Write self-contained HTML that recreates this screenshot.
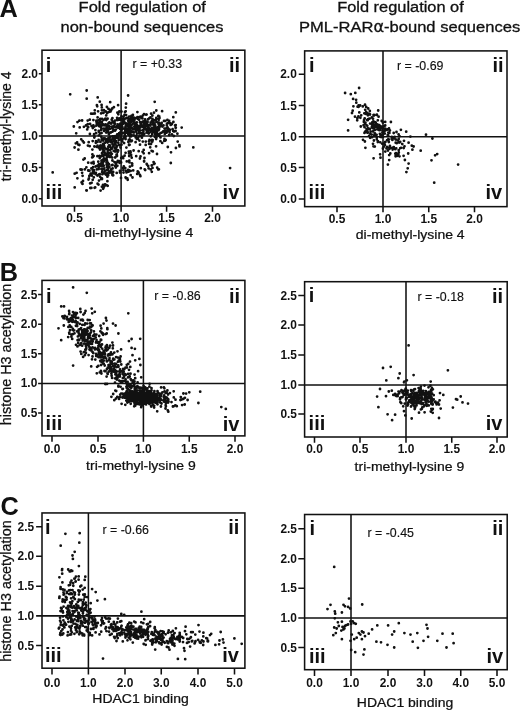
<!DOCTYPE html><html><head><meta charset="utf-8"><title>Figure</title><style>html,body{margin:0;padding:0;background:#fff}svg{display:block}text{font-family:"Liberation Sans", Arial, Helvetica, sans-serif;fill:#111}</style></head><body>
<svg width="520" height="710" viewBox="0 0 520 710">
<rect width="520" height="710" fill="#fff"/>
<g font-size="15.4" stroke="#111" stroke-width="0.3">
<text x="78.60" y="11.90" textLength="127.30" lengthAdjust="spacingAndGlyphs">Fold regulation of</text><text x="60.50" y="32.00" textLength="162.90" lengthAdjust="spacingAndGlyphs">non-bound sequences</text>
<text x="337.20" y="11.90" textLength="126.60" lengthAdjust="spacingAndGlyphs">Fold regulation of</text><text x="299.00" y="32.00" textLength="221.20" lengthAdjust="spacingAndGlyphs">PML-RAR<tspan font-family="DejaVu Sans, sans-serif" font-size="15">α</tspan>-bound sequences</text>
</g>
<g font-size="25.3" font-weight="bold"><text x="-0.4" y="17.3">A</text><text x="-0.2" y="280.8">B</text><text x="0.6" y="515.3">C</text></g>
<g stroke="#111" stroke-width="1.55" fill="none"><rect x="42.00" y="50.20" width="202.85" height="155.80"/><path d="M121.10 50.20V206.00M42.00 136.00H244.85M74.50 206.00v5.8M121.10 206.00v5.8M166.60 206.00v5.8M212.50 206.00v5.8M42.00 198.75h-3.2M42.00 167.50h-3.2M42.00 136.00h-3.2M42.00 104.80h-3.2M42.00 73.80h-3.2"/></g>
<g font-size="12.3" font-weight="bold"><g text-anchor="middle"><text transform="translate(74.50 222.10) scale(0.97 1)">0.5</text><text transform="translate(121.10 222.10) scale(0.97 1)">1.0</text><text transform="translate(166.60 222.10) scale(0.97 1)">1.5</text><text transform="translate(212.50 222.10) scale(0.97 1)">2.0</text></g><g text-anchor="end"><text transform="translate(38.00 202.75) scale(0.97 1)">0.0</text><text transform="translate(38.00 171.50) scale(0.97 1)">0.5</text><text transform="translate(38.00 140.00) scale(0.97 1)">1.0</text><text transform="translate(38.00 108.80) scale(0.97 1)">1.5</text><text transform="translate(38.00 77.80) scale(0.97 1)">2.0</text></g></g>
<text font-size="13" stroke="#111" stroke-width="0.25" text-anchor="middle" transform="translate(138.80 237.30) scale(1.077 1)">di-methyl-lysine 4</text>
<text font-size="14" stroke="#111" stroke-width="0.25" text-anchor="middle" transform="translate(11.00 126.30) rotate(-90) scale(1.000 1)">tri-methyl-lysine 4</text>
<text font-size="12.4" stroke="#111" stroke-width="0.15" x="132.50" y="67.50">r = +0.33</text>
<g font-size="20" font-weight="bold"><text x="45.70" y="71.50">i</text><text x="240.20" y="71.60" text-anchor="end">ii</text><text x="45.60" y="199.00">iii</text><text x="239.30" y="199.00" text-anchor="end">iv</text></g>
<path d="M175.8 127.7h0M138.1 126.1h0M122.3 126.7h0M115.9 129.6h0M117.4 112.7h0M102.6 125.2h0M142.5 134.2h0M155.2 130.1h0M147.6 121.9h0M146.2 122.4h0M143.4 127.6h0M155.5 131.3h0M138.7 126.3h0M160.5 137.4h0M129.1 134.9h0M103.6 119.9h0M92.8 128.1h0M161.5 125.0h0M136.6 118.2h0M123.4 121.6h0M138.3 126.3h0M137.4 112.1h0M134.2 121.8h0M124.7 128.4h0M115.0 120.7h0M126.0 123.3h0M133.0 132.0h0M87.7 124.2h0M116.7 126.8h0M129.7 139.4h0M107.6 126.6h0M159.1 128.9h0M107.6 128.4h0M121.1 137.0h0M154.3 129.3h0M113.8 125.9h0M98.6 124.4h0M158.8 134.1h0M130.9 121.9h0M96.1 133.2h0M132.0 127.7h0M167.4 120.0h0M87.2 129.4h0M153.6 130.3h0M133.2 119.0h0M112.2 128.2h0M150.9 128.8h0M96.8 123.5h0M173.4 122.0h0M145.8 141.6h0M121.3 131.5h0M148.7 133.6h0M128.1 133.4h0M148.3 132.6h0M169.6 132.2h0M111.3 123.5h0M166.7 132.5h0M100.4 124.3h0M143.7 123.9h0M129.2 131.1h0M146.4 125.8h0M124.5 115.0h0M154.7 125.0h0M130.7 130.5h0M93.4 125.4h0M108.0 131.6h0M147.7 125.0h0M117.1 119.9h0M149.8 132.3h0M164.5 128.6h0M148.1 119.3h0M139.5 129.8h0M119.7 124.6h0M123.0 132.8h0M132.5 131.8h0M158.7 130.3h0M121.5 111.6h0M134.8 129.0h0M126.6 129.5h0M142.7 130.3h0M99.2 126.2h0M140.0 122.2h0M117.7 124.5h0M151.1 113.7h0M147.9 125.4h0M129.2 116.6h0M144.9 124.9h0M141.1 122.6h0M158.9 135.8h0M129.7 127.0h0M121.8 126.3h0M94.3 126.6h0M139.4 140.6h0M121.5 120.1h0M133.8 128.8h0M134.4 129.2h0M107.0 127.1h0M112.7 127.1h0M166.8 125.2h0M143.5 135.0h0M125.0 132.1h0M128.9 124.2h0M103.1 124.3h0M144.2 129.1h0M101.4 129.0h0M156.8 132.2h0M130.9 126.6h0M128.3 118.4h0M137.1 133.4h0M106.2 115.4h0M156.7 121.9h0M169.9 130.0h0M146.5 121.6h0M150.8 136.3h0M156.2 137.7h0M131.3 134.7h0M122.3 128.6h0M144.7 128.8h0M150.8 130.2h0M142.4 125.9h0M151.4 140.6h0M133.5 123.0h0M141.2 135.9h0M164.3 131.1h0M169.6 129.7h0M164.8 133.9h0M133.8 135.3h0M125.5 132.6h0M103.0 125.3h0M160.2 123.7h0M154.5 123.5h0M128.5 132.6h0M108.0 130.6h0M112.6 131.6h0M144.3 123.7h0M164.5 138.9h0M131.7 118.1h0M156.5 130.0h0M106.9 130.5h0M120.4 123.6h0M120.9 119.1h0M114.4 123.4h0M130.1 119.3h0M119.5 124.9h0M127.3 118.0h0M142.4 118.4h0M143.6 127.3h0M142.0 117.1h0M105.7 124.3h0M100.8 124.6h0M139.2 132.5h0M168.7 129.1h0M89.8 119.7h0M156.6 135.1h0M112.5 121.3h0M150.2 124.6h0M129.2 124.3h0M131.9 140.7h0M109.1 126.1h0M171.8 124.2h0M115.0 130.7h0M126.0 125.4h0M160.4 141.2h0M96.4 120.6h0M166.7 131.1h0M132.9 120.6h0M137.9 138.5h0M129.0 121.6h0M117.7 127.3h0M143.3 121.3h0M161.6 132.7h0M121.6 129.9h0M125.7 111.3h0M130.5 131.6h0M126.9 130.7h0M148.7 128.6h0M140.4 133.2h0M155.9 119.7h0M143.0 115.3h0M113.4 130.2h0M156.5 137.6h0M126.0 118.3h0M119.5 118.5h0M170.1 123.1h0M148.3 119.2h0M155.3 132.4h0M117.3 126.8h0M169.2 135.0h0M136.4 135.7h0M153.6 120.8h0M143.5 131.0h0M154.0 112.7h0M181.7 127.6h0M167.6 131.0h0M168.2 123.1h0M152.4 115.5h0M101.9 122.0h0M157.0 134.5h0M153.0 124.6h0M141.0 117.5h0M137.0 129.6h0M135.9 131.5h0M123.1 119.3h0M136.4 125.5h0M106.2 132.6h0M88.2 127.2h0M125.3 131.0h0M148.1 124.8h0M162.4 126.6h0M165.2 120.9h0M150.6 122.3h0M94.0 135.2h0M130.0 123.5h0M111.7 119.7h0M123.8 123.0h0M105.4 118.6h0M167.8 130.5h0M133.9 132.5h0M120.7 119.7h0M139.3 133.5h0M118.7 140.0h0M154.4 120.6h0M127.4 130.8h0M129.5 128.2h0M89.9 134.0h0M117.2 134.4h0M125.0 133.6h0M127.6 128.5h0M159.3 125.0h0M130.9 141.3h0M161.7 122.9h0M129.3 133.9h0M110.8 132.5h0M171.7 124.0h0M166.7 127.8h0M131.2 136.3h0M158.3 116.0h0M104.0 130.9h0M161.1 125.8h0M150.3 125.6h0M131.2 116.9h0M132.8 129.3h0M154.0 120.7h0M155.4 131.6h0M145.1 119.3h0M152.1 131.8h0M101.1 127.6h0M144.0 114.2h0M147.0 124.7h0M160.0 126.5h0M94.8 110.3h0M126.1 123.7h0M129.7 131.5h0M93.4 120.1h0M177.4 133.7h0M164.0 120.9h0M117.1 117.8h0M151.2 130.6h0M140.3 130.6h0M136.8 125.2h0M128.2 126.0h0M143.0 133.0h0M100.2 121.4h0M122.5 139.3h0M125.0 128.8h0M147.5 129.4h0M139.1 128.3h0M129.7 124.1h0M159.3 134.5h0M114.6 121.8h0M119.2 127.0h0M173.2 131.0h0M156.3 135.4h0M155.2 134.3h0M128.4 123.8h0M148.1 133.1h0M135.8 125.9h0M122.9 119.0h0M124.3 119.2h0M131.4 116.0h0M172.6 129.2h0M144.3 133.8h0M139.2 119.8h0M110.9 123.5h0M112.4 118.2h0M158.2 127.1h0M169.2 121.0h0M131.8 120.7h0M123.8 121.3h0M170.7 124.9h0M128.0 123.5h0M154.0 125.5h0M149.3 125.4h0M123.6 119.5h0M152.1 130.2h0M132.9 114.9h0M86.0 125.4h0M117.6 119.3h0M144.9 127.3h0M154.3 128.5h0M108.6 112.1h0M118.1 127.8h0M171.9 134.3h0M106.2 130.0h0M113.3 127.7h0M110.6 111.4h0M147.4 125.4h0M151.9 121.0h0M142.6 133.2h0M129.9 123.9h0M124.3 121.6h0M101.1 113.4h0M138.7 131.0h0M136.8 122.4h0M99.4 123.1h0M165.2 133.1h0M104.9 125.4h0M149.8 128.6h0M115.9 141.0h0M123.8 122.0h0M154.5 123.6h0M124.5 128.9h0M130.7 135.0h0M156.3 118.0h0M155.2 125.4h0M107.6 118.7h0M137.4 117.2h0M103.9 128.7h0M106.3 120.0h0M100.4 126.7h0M137.9 126.9h0M158.9 127.7h0M175.6 127.7h0M138.1 119.1h0M121.7 125.1h0M128.8 127.1h0M168.6 129.0h0M163.5 125.4h0M146.7 132.6h0M120.2 129.1h0M156.3 127.4h0M129.2 129.9h0M140.6 127.3h0M125.2 130.0h0M173.3 117.2h0M149.4 118.2h0M175.1 125.4h0M143.2 127.0h0M119.4 111.4h0M147.4 124.6h0M135.9 126.9h0M108.4 123.4h0M97.6 123.1h0M123.6 116.7h0M140.4 126.6h0M98.1 111.3h0M133.1 132.1h0M98.2 120.5h0M160.6 133.1h0M159.2 116.3h0M136.9 128.6h0M116.8 126.1h0M118.6 119.7h0M138.0 118.2h0M119.2 133.1h0M120.5 128.1h0M94.1 134.1h0M90.1 123.9h0M125.5 126.7h0M120.4 128.1h0M135.9 130.9h0M157.5 129.4h0M153.4 131.7h0M134.7 122.9h0M140.7 116.6h0M136.9 139.1h0M158.3 127.8h0M149.6 129.6h0M96.4 121.8h0M156.0 132.9h0M152.1 127.9h0M142.7 133.4h0M167.0 123.6h0M146.4 126.1h0M114.9 126.7h0M140.7 124.1h0M121.7 127.5h0M98.8 135.3h0M152.8 123.2h0M115.0 123.8h0M112.0 126.6h0M134.4 119.9h0M158.8 119.8h0M157.0 133.7h0M95.4 130.1h0M159.5 118.0h0M139.2 117.2h0M101.1 130.0h0M130.4 133.9h0M175.6 131.0h0M128.5 129.4h0M115.1 136.1h0M107.1 125.2h0M121.5 134.3h0M101.6 133.1h0M129.9 120.2h0M128.6 130.6h0M148.2 127.3h0M87.7 120.6h0M145.3 121.4h0M112.0 127.8h0M103.0 125.0h0M153.4 132.2h0M118.3 114.3h0M171.2 124.1h0M108.4 132.7h0M154.4 127.0h0M142.4 121.9h0M122.6 122.8h0M146.1 114.7h0M133.3 117.3h0M146.5 130.3h0M158.9 127.7h0M100.0 133.6h0M132.0 124.6h0M131.3 125.2h0M156.3 110.5h0M104.9 124.7h0M128.8 139.9h0M147.9 131.2h0M143.0 125.9h0M128.3 134.4h0M126.4 131.7h0M87.9 127.1h0M123.4 123.7h0M109.4 126.6h0M98.7 130.9h0M158.7 122.4h0M107.6 129.0h0M110.0 128.8h0M119.0 134.9h0M153.9 131.9h0M159.8 123.3h0M173.8 136.0h0M96.5 125.5h0M158.2 122.8h0M121.1 128.3h0M136.6 124.8h0M129.0 133.5h0M134.3 117.7h0M131.3 119.0h0M130.1 124.6h0M101.2 136.7h0M125.7 132.9h0M102.0 118.8h0M93.1 113.7h0M150.5 125.0h0M152.5 119.0h0M153.0 130.8h0M91.6 126.1h0M167.6 127.4h0M158.7 124.6h0M136.3 136.4h0M100.2 119.0h0M158.6 119.2h0M152.2 134.2h0M108.9 134.3h0M159.0 125.1h0M105.4 129.6h0M164.3 140.8h0M152.5 121.8h0M118.8 124.8h0M105.9 128.5h0M119.1 111.9h0M129.0 125.2h0M174.0 131.6h0M139.6 125.8h0M99.0 131.9h0M128.1 131.1h0M134.4 123.8h0M165.5 130.5h0M124.8 129.0h0M126.1 115.1h0M117.7 120.1h0M128.1 120.8h0M113.1 122.1h0M109.4 122.3h0M121.5 116.3h0M134.4 126.4h0M146.6 114.6h0M120.5 132.1h0M121.6 127.6h0M124.8 135.0h0M146.1 129.0h0M175.7 125.1h0M150.4 117.5h0M125.3 130.4h0M136.3 126.4h0M129.8 128.5h0M163.2 131.5h0M119.5 162.8h0M117.0 156.0h0M114.7 137.1h0M103.5 150.7h0M129.2 156.1h0M107.5 173.5h0M109.3 171.3h0M107.1 142.1h0M94.4 146.5h0M95.8 142.8h0M110.9 153.1h0M110.7 153.1h0M104.4 155.0h0M96.7 146.8h0M91.5 163.0h0M103.3 156.3h0M92.2 157.4h0M116.2 149.7h0M115.8 167.5h0M130.7 175.2h0M112.3 172.6h0M98.7 169.0h0M100.4 141.9h0M74.6 147.5h0M102.4 146.2h0M104.4 158.4h0M113.2 172.1h0M112.2 157.6h0M114.5 141.7h0M108.6 155.8h0M113.7 150.9h0M119.6 161.2h0M93.9 170.2h0M102.9 151.1h0M93.0 156.8h0M121.1 162.4h0M117.4 165.8h0M115.0 148.3h0M93.7 163.5h0M108.6 153.1h0M102.7 165.8h0M108.9 146.0h0M103.8 161.2h0M111.4 157.0h0M105.4 139.1h0M116.1 147.4h0M110.3 146.7h0M102.6 162.6h0M107.6 142.6h0M101.5 160.7h0M117.5 136.6h0M106.4 140.3h0M110.3 149.8h0M104.8 142.9h0M92.4 154.4h0M116.7 146.8h0M93.8 171.2h0M116.2 136.6h0M112.5 144.2h0M88.2 170.5h0M95.7 166.5h0M102.0 153.2h0M100.3 145.7h0M92.8 170.2h0M116.6 137.7h0M103.2 162.3h0M113.4 136.4h0M104.0 146.1h0M109.3 156.8h0M98.3 161.7h0M103.6 172.3h0M109.4 172.7h0M107.7 151.0h0M103.8 145.2h0M98.6 139.9h0M107.2 161.6h0M112.6 138.7h0M102.7 164.3h0M101.9 138.6h0M114.4 139.4h0M128.2 170.0h0M105.9 141.7h0M111.0 148.0h0M111.4 148.1h0M83.9 142.6h0M107.9 154.7h0M99.7 155.9h0M119.0 161.5h0M106.4 141.6h0M101.6 140.1h0M102.2 169.8h0M109.8 145.3h0M99.6 165.2h0M103.9 168.8h0M91.4 168.3h0M104.8 153.2h0M112.5 165.0h0M123.8 166.5h0M110.7 172.2h0M108.0 163.2h0M119.7 145.2h0M113.2 175.3h0M122.4 156.9h0M117.6 152.1h0M102.4 174.2h0M107.6 164.4h0M110.8 139.9h0M112.6 136.4h0M110.7 142.2h0M96.8 169.4h0M87.9 145.6h0M99.7 158.1h0M84.8 169.4h0M107.0 156.9h0M109.3 139.3h0M92.7 141.1h0M112.4 160.5h0M112.0 173.6h0M110.0 140.1h0M125.7 136.7h0M124.6 155.7h0M93.1 167.2h0M116.8 154.4h0M112.0 148.3h0M110.4 156.9h0M114.5 162.1h0M97.9 166.3h0M99.4 164.3h0M95.6 174.2h0M97.6 166.0h0M108.5 138.0h0M89.3 175.9h0M97.9 147.1h0M113.9 144.6h0M105.2 160.0h0M110.8 152.4h0M86.4 167.3h0M100.0 149.5h0M102.5 147.9h0M108.3 146.8h0M100.8 156.5h0M118.5 137.4h0M108.3 141.5h0M107.1 153.3h0M107.8 148.9h0M111.8 165.2h0M104.8 138.4h0M118.2 150.4h0M113.5 140.4h0M106.6 164.6h0M110.0 136.9h0M108.9 172.0h0M116.5 155.0h0M113.1 171.8h0M108.1 168.6h0M116.6 145.6h0M104.8 173.5h0M117.8 160.9h0M104.2 168.5h0M88.7 142.2h0M116.7 172.9h0M106.5 162.7h0M97.5 141.9h0M105.8 148.7h0M99.3 148.0h0M129.9 136.5h0M108.2 175.2h0M92.4 149.6h0M113.3 146.4h0M104.2 146.2h0M126.4 147.6h0M93.5 173.3h0M82.1 172.8h0M108.9 145.3h0M103.8 151.7h0M100.9 165.7h0M82.6 175.8h0M110.8 154.8h0M120.0 172.6h0M89.7 146.2h0M116.7 162.5h0M103.0 143.9h0M126.5 172.4h0M110.6 156.4h0M102.1 172.2h0M119.0 145.0h0M111.9 153.8h0M99.0 166.8h0M116.3 137.7h0M102.7 148.9h0M88.2 162.7h0M128.4 142.0h0M102.3 161.0h0M103.5 138.5h0M108.4 164.3h0M94.6 136.8h0M90.6 173.7h0M103.2 146.8h0M100.1 164.5h0M106.7 159.2h0M118.2 150.7h0M99.0 174.3h0M109.4 167.2h0M109.7 172.0h0M97.6 146.6h0M106.9 167.3h0M97.4 156.2h0M115.6 163.0h0M109.2 166.7h0M109.4 138.8h0M93.6 155.9h0M108.6 150.2h0M100.4 148.0h0M115.4 143.3h0M103.8 165.7h0M95.9 173.0h0M115.2 157.5h0M111.3 169.4h0M97.6 175.4h0M120.4 139.4h0M104.4 151.1h0M102.9 159.6h0M105.3 170.7h0M100.9 145.7h0M102.4 154.9h0M102.8 169.2h0M124.4 136.9h0M123.9 138.1h0M106.7 139.1h0M124.1 143.1h0M106.3 154.9h0M108.9 164.2h0M116.0 150.1h0M107.0 170.1h0M130.5 151.5h0M106.0 173.5h0M91.8 175.6h0M120.5 147.6h0M101.5 162.5h0M104.8 148.3h0M79.4 145.0h0M118.3 142.8h0M115.1 151.5h0M116.4 142.3h0M116.9 149.8h0M125.6 139.1h0M108.6 140.3h0M112.6 174.5h0M97.8 165.5h0M102.3 160.6h0M115.1 166.1h0M108.2 169.1h0M96.0 141.2h0M106.9 175.2h0M102.7 168.9h0M100.3 145.8h0M108.9 167.2h0M101.0 165.8h0M94.3 137.5h0M97.5 145.7h0M123.2 158.2h0M89.5 170.7h0M107.1 165.4h0M115.5 136.9h0M114.5 144.5h0M91.9 173.4h0M104.7 147.9h0M107.0 161.1h0M115.6 147.4h0M98.9 164.4h0M92.9 171.0h0M113.0 175.4h0M115.8 164.4h0M112.4 141.8h0M103.1 140.5h0M111.6 148.8h0M109.1 146.3h0M112.6 168.4h0M93.5 162.0h0M110.2 140.2h0M95.2 187.4h0M99.0 180.6h0M92.7 179.8h0M82.5 183.9h0M101.2 178.9h0M107.7 185.8h0M81.6 182.4h0M101.4 169.0h0M103.0 184.8h0M105.0 184.4h0M81.8 169.7h0M100.1 176.8h0M102.5 170.5h0M99.7 174.2h0M86.4 190.4h0M111.2 170.9h0M102.0 179.1h0M98.5 184.6h0M112.4 175.1h0M101.9 178.3h0M107.4 176.7h0M104.3 186.2h0M102.0 168.6h0M91.6 182.8h0M105.8 174.5h0M103.1 188.8h0M101.9 186.7h0M88.5 179.6h0M93.8 177.3h0M128.6 171.7h0M104.1 184.8h0M90.3 188.0h0M91.4 187.9h0M90.1 183.4h0M86.7 190.5h0M83.0 181.0h0M97.4 175.6h0M107.4 181.2h0M103.6 187.8h0M119.9 170.9h0M94.6 187.8h0M100.6 190.6h0M88.9 178.5h0M97.6 183.7h0M106.4 185.2h0M83.4 159.6h0M78.2 144.6h0M77.5 122.1h0M79.4 120.7h0M77.1 142.3h0M76.6 172.8h0M82.8 141.2h0M76.2 133.3h0M78.4 149.7h0M83.8 142.5h0M73.8 126.5h0M84.7 158.5h0M77.4 178.3h0M75.8 143.3h0M80.5 169.5h0M79.7 127.4h0M105.7 111.5h0M125.8 107.6h0M110.2 111.6h0M91.1 113.7h0M103.9 110.1h0M113.9 107.2h0M112.3 108.5h0M97.6 117.4h0M103.4 112.9h0M101.9 110.3h0M94.8 113.5h0M108.5 108.9h0M101.8 107.4h0M107.1 113.1h0M110.2 102.2h0M101.6 104.9h0M126.1 103.7h0M99.8 101.7h0M111.1 110.2h0M106.9 107.0h0M110.3 109.9h0M125.0 112.0h0M97.2 106.3h0M118.1 105.2h0M96.9 105.2h0M136.2 156.2h0M127.7 179.8h0M157.0 154.0h0M148.6 168.3h0M152.5 167.9h0M152.4 141.5h0M153.9 164.1h0M171.0 152.3h0M140.5 156.4h0M125.6 177.4h0M147.0 164.7h0M149.1 153.2h0M157.2 167.7h0M154.8 136.8h0M129.0 145.0h0M144.5 157.9h0M165.7 139.9h0M127.3 178.4h0M145.2 170.1h0M152.1 139.9h0M131.7 157.7h0M138.6 172.5h0M131.1 155.0h0M175.9 148.0h0M129.0 153.5h0M121.0 177.9h0M153.6 162.1h0M142.6 151.8h0M129.3 160.7h0M140.4 176.2h0M177.7 141.6h0M132.2 163.8h0M149.0 141.3h0M143.7 153.3h0M125.6 152.8h0M126.8 161.4h0M133.6 150.5h0M144.7 169.3h0M142.8 141.6h0M170.8 163.0h0M150.2 147.3h0M132.2 165.5h0M146.7 163.9h0M152.7 140.1h0M126.0 170.9h0M158.2 169.4h0M131.7 141.1h0M123.2 167.9h0M151.7 165.5h0M152.3 141.3h0M148.2 165.9h0M139.3 136.3h0M150.9 144.0h0M162.2 142.9h0M128.7 170.1h0M133.2 170.4h0M167.8 147.0h0M151.1 143.8h0M130.6 170.9h0M158.9 169.3h0M144.1 161.5h0M121.2 157.9h0M130.6 152.4h0M132.5 177.5h0M137.7 171.5h0M139.9 174.8h0M125.3 168.1h0M151.8 171.8h0M156.1 139.0h0M154.6 163.6h0M137.2 173.9h0M151.6 150.8h0M135.7 137.4h0M179.4 145.2h0M128.8 151.6h0M131.9 163.4h0M129.4 162.3h0M129.9 166.7h0M140.0 144.7h0M129.6 144.8h0M139.9 158.5h0M135.6 142.2h0M152.8 151.4h0M143.7 149.9h0M140.8 168.2h0M150.7 169.4h0M123.3 170.0h0M149.5 140.0h0M145.7 144.9h0M165.5 140.6h0M149.1 143.9h0M121.5 144.7h0M144.1 160.9h0M179.5 146.4h0M123.5 172.6h0M138.7 151.2h0M125.8 178.1h0M141.9 137.7h0M122.3 141.4h0M156.1 146.3h0M70.2 94.3h0M86.7 90.5h0M86.7 98.7h0M97.7 97.4h0M128.1 95.5h0M154.7 101.8h0M52.7 172.4h0M230.1 168.1h0M193.3 147.4h0M74.7 187.4h0M74.7 173.7h0M162.1 111.2h0M175.8 112.4h0M82.1 120.5h0M83.9 126.8h0M81.2 139.3h0" stroke="#111" stroke-width="2.8" stroke-linecap="round" fill="none"/>
<g stroke="#111" stroke-width="1.55" fill="none"><rect x="304.65" y="50.90" width="202.35" height="155.75"/><path d="M383.00 50.90V206.65M304.65 136.75H507.00M337.00 206.65v5.5M383.00 206.65v5.5M428.75 206.65v5.5M474.50 206.65v5.5M304.65 199.00h-5.9M304.65 167.50h-5.9M304.65 136.75h-5.9M304.65 105.50h-5.9M304.65 74.25h-5.9"/></g>
<g font-size="12.3" font-weight="bold"><g text-anchor="middle"><text transform="translate(337.00 222.80) scale(0.97 1)">0.5</text><text transform="translate(383.00 222.80) scale(0.97 1)">1.0</text><text transform="translate(428.75 222.80) scale(0.97 1)">1.5</text><text transform="translate(474.50 222.80) scale(0.97 1)">2.0</text></g><g text-anchor="end"><text transform="translate(296.80 203.00) scale(0.97 1)">0.0</text><text transform="translate(296.80 171.50) scale(0.97 1)">0.5</text><text transform="translate(296.80 140.75) scale(0.97 1)">1.0</text><text transform="translate(296.80 109.50) scale(0.97 1)">1.5</text><text transform="translate(296.80 78.25) scale(0.97 1)">2.0</text></g></g>
<text font-size="13" stroke="#111" stroke-width="0.25" text-anchor="middle" transform="translate(410.20 238.90) scale(1.077 1)">di-methyl-lysine 4</text>
<text font-size="12.4" stroke="#111" stroke-width="0.15" x="397.00" y="70.00">r = -0.69</text>
<g font-size="20" font-weight="bold"><text x="309.00" y="71.80">i</text><text x="503.70" y="71.50" text-anchor="end">ii</text><text x="308.60" y="198.90">iii</text><text x="502.20" y="199.20" text-anchor="end">iv</text></g>
<path d="M360.8 126.5h0M380.8 126.4h0M388.3 132.7h0M381.7 120.9h0M382.8 134.6h0M372.0 124.3h0M364.7 118.4h0M383.1 133.8h0M391.8 136.8h0M371.9 126.7h0M367.2 120.0h0M373.9 114.9h0M379.3 125.1h0M371.7 134.6h0M372.9 131.4h0M382.5 130.5h0M389.0 128.5h0M381.4 128.2h0M375.6 122.5h0M382.2 134.9h0M378.2 110.5h0M372.9 127.3h0M367.4 132.7h0M384.6 130.9h0M376.5 114.9h0M396.7 143.2h0M383.4 126.5h0M377.4 124.5h0M373.5 115.1h0M379.4 126.4h0M385.2 125.5h0M378.0 125.8h0M389.9 130.4h0M372.9 131.4h0M370.6 131.6h0M374.7 124.7h0M355.0 116.7h0M379.7 127.8h0M365.0 113.2h0M367.4 131.2h0M363.9 121.3h0M382.8 122.5h0M375.7 135.0h0M367.7 129.2h0M372.1 137.2h0M374.8 122.1h0M372.4 122.2h0M365.1 131.7h0M367.9 115.3h0M383.2 133.7h0M384.8 133.6h0M387.6 129.5h0M369.6 118.6h0M366.6 128.9h0M360.4 117.8h0M373.2 126.3h0M370.0 114.5h0M369.9 129.0h0M385.2 121.9h0M376.8 139.3h0M368.2 119.2h0M373.9 115.6h0M361.2 115.3h0M368.0 114.3h0M373.0 118.7h0M367.8 132.7h0M363.6 125.2h0M364.3 113.3h0M386.0 130.1h0M364.3 122.2h0M367.4 113.1h0M376.6 124.1h0M370.1 137.8h0M366.7 130.1h0M377.1 127.0h0M366.4 125.1h0M388.1 139.5h0M365.3 123.5h0M367.3 125.8h0M378.6 116.7h0M357.4 118.2h0M374.1 126.8h0M372.0 127.5h0M382.9 133.6h0M372.6 125.4h0M374.7 127.6h0M382.9 130.5h0M375.3 127.1h0M364.5 127.2h0M364.1 120.0h0M367.2 130.0h0M375.9 123.5h0M357.6 106.7h0M374.0 126.9h0M383.5 130.3h0M368.2 108.5h0M363.9 121.9h0M381.5 137.0h0M372.8 122.9h0M395.7 142.7h0M373.3 121.3h0M374.5 134.5h0M377.5 127.1h0M377.8 120.3h0M383.0 127.8h0M376.6 134.8h0M372.5 123.9h0M370.1 123.6h0M366.2 112.0h0M393.5 138.2h0M377.4 129.4h0M385.3 128.7h0M374.4 127.9h0M374.9 133.3h0M379.9 133.8h0M378.6 127.5h0M383.8 131.0h0M383.1 136.8h0M379.3 130.2h0M375.5 126.4h0M382.3 143.8h0M376.7 137.6h0M384.8 144.7h0M364.5 132.9h0M388.8 142.0h0M374.8 130.1h0M357.2 120.3h0M379.8 130.2h0M382.4 132.6h0M373.8 128.6h0M376.9 114.7h0M377.1 126.3h0M368.1 128.4h0M387.2 140.1h0M365.4 122.6h0M369.8 110.9h0M352.0 113.0h0M380.3 136.8h0M367.8 120.2h0M388.7 139.5h0M359.3 112.4h0M387.7 135.1h0M353.4 106.3h0M371.9 117.5h0M373.3 128.4h0M369.6 114.0h0M386.9 146.9h0M365.2 109.8h0M370.4 133.6h0M373.8 126.8h0M392.6 149.6h0M389.6 148.7h0M398.5 154.0h0M389.9 145.8h0M411.8 145.7h0M392.4 139.9h0M399.5 136.2h0M400.9 129.8h0M412.4 149.7h0M388.2 135.7h0M401.0 147.8h0M373.6 158.3h0M398.7 139.0h0M404.9 160.0h0M408.2 153.5h0M399.2 142.5h0M382.9 148.5h0M365.4 147.8h0M369.1 135.8h0M394.7 136.8h0M398.8 152.4h0M398.7 150.1h0M402.3 144.1h0M380.3 142.3h0M394.7 148.4h0M406.2 131.7h0M388.8 147.6h0M363.0 139.8h0M387.9 164.6h0M397.9 140.6h0M383.8 146.7h0M380.6 135.2h0M373.0 143.8h0M420.7 150.7h0M400.3 148.1h0M377.8 142.1h0M399.5 156.3h0M398.6 134.5h0M408.6 163.6h0M380.5 157.7h0M408.6 142.7h0M403.6 155.8h0M377.9 141.1h0M395.3 153.7h0M395.9 139.6h0M397.0 155.9h0M364.9 141.5h0M396.2 148.3h0M388.0 150.6h0M403.7 148.0h0M395.6 154.9h0M385.4 141.9h0M380.1 154.3h0M389.4 132.9h0M396.5 132.0h0M392.1 147.9h0M374.8 146.6h0M413.6 146.5h0M404.0 140.8h0M393.8 147.2h0M395.5 139.3h0M400.2 142.0h0M396.0 153.1h0M390.3 153.5h0M407.7 168.3h0M390.9 122.0h0M389.2 155.1h0M393.7 133.0h0M391.7 139.0h0M395.3 149.2h0M437.2 154.1h0M386.5 148.4h0M399.1 142.6h0M404.5 146.3h0M374.2 136.0h0M389.7 147.1h0M373.5 146.3h0M383.9 143.5h0M373.9 140.5h0M395.6 156.3h0M385.3 151.6h0M406.4 172.1h0M389.2 160.1h0M388.0 136.0h0M385.2 142.1h0M355.3 92.9h0M365.0 104.7h0M352.7 110.7h0M365.9 113.9h0M358.6 105.4h0M353.1 98.9h0M360.1 105.5h0M356.3 102.7h0M356.1 99.8h0M366.2 106.9h0M362.8 106.4h0M345.1 93.0h0M358.5 106.9h0M358.4 116.5h0M458.1 164.6h0M434.2 182.7h0M435.1 155.3h0M431.5 160.3h0M432.4 138.5h0M426.0 134.7h0M350.8 94.2h0M359.1 88.0h0M348.1 130.4h0M348.1 119.8h0M410.4 136.6h0" stroke="#111" stroke-width="2.8" stroke-linecap="round" fill="none"/>
<g stroke="#111" stroke-width="1.55" fill="none"><rect x="42.00" y="280.40" width="202.90" height="155.50"/><path d="M143.40 280.40V435.90M42.00 383.45H244.90M52.00 435.90v5.8M98.00 435.90v5.8M143.40 435.90v5.8M189.25 435.90v5.8M235.00 435.90v5.8M42.00 413.00h-3.9M42.00 383.45h-3.9M42.00 353.75h-3.9M42.00 324.25h-3.9M42.00 294.50h-3.9"/></g>
<g font-size="12.3" font-weight="bold"><g text-anchor="middle"><text transform="translate(52.00 453.05) scale(0.97 1)">0.0</text><text transform="translate(98.00 453.05) scale(0.97 1)">0.5</text><text transform="translate(143.40 453.05) scale(0.97 1)">1.0</text><text transform="translate(189.25 453.05) scale(0.97 1)">1.5</text><text transform="translate(235.00 453.05) scale(0.97 1)">2.0</text></g><g text-anchor="end"><text transform="translate(37.30 417.00) scale(0.97 1)">0.5</text><text transform="translate(37.30 387.45) scale(0.97 1)">1.0</text><text transform="translate(37.30 357.75) scale(0.97 1)">1.5</text><text transform="translate(37.30 328.25) scale(0.97 1)">2.0</text><text transform="translate(37.30 298.50) scale(0.97 1)">2.5</text></g></g>
<text font-size="13" stroke="#111" stroke-width="0.25" text-anchor="middle" transform="translate(140.90 470.20) scale(1.077 1)">tri-methyl-lysine 9</text>
<text font-size="14" stroke="#111" stroke-width="0.25" text-anchor="middle" transform="translate(11.00 354.40) rotate(-90) scale(1.028 1)">histone H3 acetylation</text>
<text font-size="12.4" stroke="#111" stroke-width="0.15" x="154.25" y="299.50">r = -0.86</text>
<g font-size="20" font-weight="bold"><text x="45.90" y="302.90">i</text><text x="240.10" y="303.00" text-anchor="end">ii</text><text x="45.60" y="430.30">iii</text><text x="239.50" y="430.80" text-anchor="end">iv</text></g>
<path d="M131.2 380.2h0M102.5 333.8h0M120.8 371.2h0M118.9 360.3h0M68.2 337.1h0M86.4 330.0h0M92.0 343.9h0M91.6 339.8h0M124.3 369.2h0M72.3 319.2h0M129.0 369.8h0M99.1 350.0h0M103.6 323.6h0M117.9 357.6h0M84.5 331.3h0M113.7 371.7h0M98.7 349.6h0M103.1 352.9h0M84.8 329.4h0M82.4 319.6h0M123.1 394.1h0M105.5 347.6h0M97.7 354.9h0M121.3 364.5h0M129.7 376.5h0M91.7 308.6h0M137.4 393.4h0M69.2 314.2h0M111.6 354.3h0M86.1 340.9h0M77.9 336.4h0M98.3 365.9h0M109.7 354.4h0M98.2 342.9h0M121.1 349.4h0M128.0 377.4h0M83.4 314.6h0M94.8 311.8h0M107.7 373.9h0M107.4 329.2h0M91.3 341.2h0M103.6 351.0h0M114.0 369.2h0M139.4 358.9h0M129.4 390.0h0M126.8 387.9h0M81.3 353.9h0M135.2 360.3h0M128.9 341.1h0M92.2 313.3h0M125.8 374.8h0M85.2 332.5h0M115.4 374.4h0M111.4 368.4h0M119.9 376.5h0M113.5 359.8h0M134.6 374.6h0M74.2 316.7h0M67.2 319.4h0M87.1 323.6h0M105.8 348.4h0M92.5 351.9h0M71.4 336.7h0M78.5 331.3h0M106.9 345.5h0M99.5 341.9h0M116.7 371.5h0M101.6 332.3h0M124.1 376.9h0M118.3 365.5h0M113.0 345.5h0M86.0 344.0h0M86.3 333.3h0M91.2 327.1h0M88.3 336.2h0M86.1 349.0h0M76.0 344.8h0M102.2 348.6h0M73.6 330.6h0M123.7 377.4h0M108.5 354.5h0M90.0 333.6h0M83.3 338.5h0M82.2 324.8h0M96.3 348.8h0M85.9 334.8h0M84.7 313.1h0M110.6 360.8h0M98.2 348.1h0M113.2 358.7h0M91.2 366.4h0M115.6 325.5h0M83.1 356.9h0M92.5 356.5h0M102.0 344.5h0M90.1 337.6h0M122.8 378.1h0M82.5 335.3h0M89.3 328.2h0M94.5 334.5h0M114.6 371.6h0M123.0 371.7h0M102.8 357.1h0M91.8 347.8h0M110.0 353.9h0M125.1 381.2h0M84.3 337.3h0M111.7 371.5h0M116.8 367.1h0M100.4 331.3h0M78.3 331.4h0M110.2 370.7h0M86.7 329.9h0M89.8 349.8h0M96.8 373.3h0M127.4 402.5h0M83.0 320.5h0M63.5 318.2h0M101.1 371.6h0M130.7 379.2h0M71.0 318.6h0M105.5 371.2h0M76.0 314.6h0M108.7 371.7h0M77.5 322.3h0M118.0 361.7h0M96.0 353.8h0M106.2 358.3h0M94.4 348.3h0M69.3 333.7h0M78.7 339.7h0M81.6 336.7h0M78.8 333.4h0M75.9 325.8h0M103.1 363.6h0M100.2 360.8h0M122.2 382.0h0M99.2 354.1h0M108.5 365.1h0M110.7 367.3h0M126.8 364.8h0M104.7 365.5h0M71.0 321.1h0M106.7 333.5h0M70.4 326.5h0M106.9 369.1h0M69.2 332.6h0M100.8 354.2h0M123.0 381.3h0M69.7 325.3h0M108.0 355.5h0M111.0 362.1h0M85.5 350.2h0M106.9 361.4h0M89.5 341.7h0M82.2 331.5h0M84.7 339.4h0M63.8 325.5h0M100.9 370.9h0M72.2 338.9h0M74.5 333.3h0M70.0 330.2h0M115.6 372.7h0M110.1 345.7h0M102.9 333.5h0M112.8 348.3h0M118.4 385.7h0M103.7 357.9h0M95.3 359.6h0M89.8 337.8h0M104.6 352.9h0M134.7 388.9h0M111.4 373.7h0M99.7 357.2h0M126.4 386.8h0M70.8 318.2h0M117.7 377.0h0M125.6 379.5h0M62.4 316.4h0M69.3 313.5h0M106.8 360.9h0M77.2 331.4h0M100.6 356.6h0M110.1 370.1h0M67.0 317.0h0M120.2 372.2h0M86.5 332.5h0M102.1 361.9h0M88.6 355.1h0M95.7 337.4h0M90.0 349.0h0M93.2 353.0h0M92.6 325.5h0M91.1 338.6h0M79.1 334.8h0M89.8 335.2h0M110.2 355.0h0M128.4 377.2h0M81.1 328.1h0M130.5 373.7h0M111.5 371.1h0M72.3 321.8h0M73.0 312.1h0M119.1 380.6h0M77.2 331.3h0M71.3 326.9h0M107.7 367.6h0M110.9 363.7h0M123.5 374.7h0M106.9 345.2h0M84.9 355.2h0M91.0 323.5h0M89.4 346.9h0M109.5 371.2h0M127.6 381.9h0M75.5 321.9h0M92.7 341.6h0M96.2 342.1h0M70.0 319.6h0M101.4 373.5h0M134.1 383.4h0M84.7 335.4h0M119.9 359.4h0M120.2 394.7h0M87.7 328.0h0M128.1 373.9h0M120.1 369.3h0M113.1 365.8h0M81.4 338.1h0M93.6 339.2h0M72.4 321.0h0M126.3 383.2h0M123.2 368.8h0M72.0 315.6h0M100.9 354.3h0M82.0 330.2h0M118.5 366.8h0M100.6 357.3h0M126.9 396.0h0M109.1 367.8h0M76.8 324.1h0M85.9 353.0h0M112.4 342.6h0M132.9 392.5h0M101.8 333.1h0M80.9 329.1h0M90.0 326.6h0M88.0 343.5h0M78.2 342.9h0M100.6 325.7h0M81.0 338.1h0M107.7 349.4h0M122.6 374.0h0M133.4 380.4h0M71.5 320.8h0M102.0 355.1h0M114.6 364.8h0M75.7 320.9h0M100.4 361.3h0M83.3 338.6h0M90.8 332.6h0M93.0 335.9h0M111.6 375.7h0M84.7 329.7h0M104.4 350.6h0M99.8 372.4h0M84.1 343.6h0M131.0 395.5h0M88.5 336.4h0M86.3 348.1h0M119.8 358.2h0M97.9 349.8h0M116.2 377.8h0M74.2 330.3h0M78.1 339.9h0M119.2 371.5h0M96.7 341.6h0M115.1 378.3h0M87.6 331.1h0M83.2 339.2h0M132.5 355.2h0M96.0 342.6h0M73.5 316.4h0M88.6 345.6h0M115.1 369.9h0M90.4 343.6h0M103.4 357.4h0M116.8 375.6h0M109.0 360.2h0M117.5 377.9h0M134.4 386.3h0M90.7 350.3h0M121.1 393.6h0M105.0 354.1h0M83.2 334.1h0M85.3 349.7h0M72.9 328.9h0M120.3 361.5h0M106.5 350.5h0M128.3 363.9h0M110.6 362.7h0M101.3 328.4h0M77.2 326.1h0M95.0 349.4h0M120.6 386.8h0M105.8 346.5h0M96.5 339.9h0M112.1 363.5h0M111.4 366.8h0M107.2 346.8h0M84.1 338.1h0M80.9 320.0h0M118.3 386.6h0M73.5 317.1h0M82.7 340.5h0M118.4 333.5h0M98.8 352.3h0M125.5 367.6h0M79.1 329.6h0M85.5 311.0h0M87.7 320.0h0M98.4 357.1h0M81.3 343.1h0M105.7 334.1h0M114.3 352.6h0M86.0 346.3h0M115.1 366.5h0M109.4 347.8h0M124.3 380.8h0M138.1 371.2h0M100.3 352.4h0M140.4 365.0h0M88.3 344.2h0M89.5 349.5h0M91.5 350.0h0M94.4 335.8h0M123.7 371.8h0M107.3 328.2h0M70.4 319.1h0M120.6 356.5h0M79.8 345.0h0M117.7 376.0h0M84.1 336.3h0M84.3 340.1h0M72.7 329.8h0M82.2 345.7h0M109.5 358.2h0M81.8 333.6h0M72.8 334.2h0M104.5 371.0h0M119.1 374.3h0M92.6 347.4h0M64.7 315.8h0M64.5 318.4h0M106.5 320.6h0M99.2 336.0h0M119.7 374.7h0M69.1 311.0h0M117.5 351.3h0M116.8 379.5h0M92.0 359.3h0M100.2 355.0h0M77.6 340.2h0M82.7 332.5h0M74.1 313.9h0M135.2 378.2h0M68.7 321.9h0M75.4 312.8h0M116.1 363.9h0M101.2 340.0h0M102.4 355.0h0M83.8 352.2h0M79.2 340.1h0M130.0 361.6h0M72.9 320.2h0M90.0 323.4h0M118.1 375.3h0M88.1 338.4h0M134.3 384.5h0M99.3 343.6h0M100.8 339.6h0M96.2 356.0h0M114.3 359.4h0M68.4 326.9h0M101.1 365.0h0M126.9 367.5h0M68.2 319.5h0M102.7 361.4h0M93.9 331.4h0M99.1 345.4h0M107.2 350.1h0M106.6 376.6h0M116.1 357.1h0M129.6 376.4h0M108.3 367.5h0M139.4 388.0h0M113.2 359.1h0M91.2 330.3h0M81.2 334.8h0M78.2 317.9h0M87.8 333.8h0M80.3 308.9h0M114.4 367.3h0M112.5 354.3h0M109.7 365.0h0M105.9 318.0h0M98.4 345.9h0M80.6 351.6h0M129.7 391.6h0M76.9 313.2h0M87.2 340.0h0M128.3 313.3h0M84.2 329.3h0M134.9 348.8h0M97.4 356.0h0M87.5 341.4h0M75.8 317.9h0M89.0 335.1h0M104.1 353.8h0M79.7 323.8h0M69.7 326.0h0M108.7 354.5h0M88.0 337.7h0M140.2 338.8h0M114.7 363.6h0M109.8 370.5h0M125.5 381.2h0M122.2 382.0h0M86.0 345.2h0M101.4 353.2h0M85.2 323.5h0M80.2 335.4h0M84.5 324.9h0M75.4 316.6h0M85.2 334.0h0M78.7 329.6h0M111.7 361.6h0M74.6 321.9h0M99.8 345.1h0M77.5 346.4h0M116.2 373.3h0M84.6 340.8h0M105.0 356.7h0M80.7 328.9h0M101.8 359.9h0M130.3 366.9h0M87.1 333.6h0M103.9 360.6h0M103.1 334.8h0M71.3 334.6h0M125.2 374.2h0M85.9 346.0h0M111.0 352.4h0M95.1 348.0h0M116.8 376.8h0M89.7 320.1h0M113.0 323.6h0M103.7 363.7h0M123.0 370.7h0M80.6 312.0h0M96.4 334.6h0M97.1 366.8h0M112.0 370.7h0M100.9 346.9h0M107.5 373.5h0M119.0 375.9h0M142.2 395.4h0M141.2 397.7h0M132.1 399.8h0M143.7 396.8h0M155.1 400.7h0M135.0 400.9h0M152.7 402.4h0M146.9 391.9h0M138.3 394.3h0M119.4 397.8h0M123.9 395.8h0M139.7 400.1h0M148.6 396.1h0M134.6 398.9h0M125.7 397.3h0M159.7 400.7h0M143.6 399.4h0M147.3 395.7h0M137.4 403.9h0M134.7 392.3h0M137.3 394.6h0M135.1 404.1h0M143.7 396.1h0M134.1 398.3h0M142.4 399.5h0M142.9 398.0h0M117.3 396.8h0M134.0 400.1h0M143.5 399.2h0M144.8 393.1h0M141.0 403.1h0M132.7 393.3h0M137.2 400.1h0M138.8 395.1h0M142.1 394.7h0M131.8 397.8h0M137.3 397.1h0M119.8 397.2h0M126.9 391.2h0M154.4 391.2h0M147.4 399.3h0M148.8 398.2h0M145.5 400.8h0M134.1 395.1h0M156.5 397.9h0M161.1 387.4h0M127.5 396.7h0M130.7 397.3h0M134.6 397.1h0M148.9 393.9h0M142.2 397.2h0M140.8 396.6h0M145.2 397.3h0M144.5 402.3h0M147.3 390.7h0M141.5 402.6h0M152.6 398.9h0M111.4 396.8h0M145.5 395.8h0M151.5 395.2h0M140.9 404.7h0M129.2 396.0h0M146.2 401.3h0M133.9 395.0h0M121.6 403.8h0M137.6 396.0h0M135.2 405.7h0M140.0 402.2h0M146.0 397.7h0M142.3 394.7h0M134.7 393.7h0M151.6 396.0h0M152.4 400.0h0M148.5 396.4h0M130.4 397.0h0M134.7 399.0h0M140.6 393.0h0M136.7 396.5h0M125.8 396.1h0M150.7 394.4h0M144.3 399.3h0M130.5 397.1h0M127.0 401.3h0M148.7 401.0h0M156.8 403.3h0M143.9 401.8h0M141.4 401.1h0M140.2 397.7h0M135.5 394.9h0M154.1 399.9h0M148.2 397.1h0M139.5 388.6h0M119.1 398.9h0M122.5 397.6h0M137.6 382.3h0M143.1 390.3h0M152.1 399.3h0M144.3 390.8h0M141.4 396.3h0M144.5 403.1h0M132.0 395.5h0M144.9 400.8h0M136.7 397.4h0M138.3 394.3h0M140.8 396.5h0M126.3 400.6h0M142.8 403.4h0M142.3 399.7h0M132.0 394.3h0M133.3 400.1h0M133.3 396.6h0M165.9 406.3h0M139.5 398.0h0M148.8 398.9h0M116.2 391.0h0M129.3 396.9h0M126.6 400.8h0M134.9 393.6h0M147.7 399.8h0M144.4 398.7h0M140.7 396.6h0M145.6 399.7h0M138.4 396.2h0M140.5 400.2h0M156.0 399.6h0M146.8 396.6h0M151.3 406.0h0M159.2 398.8h0M127.9 396.2h0M161.1 396.1h0M127.8 398.4h0M152.3 403.1h0M137.9 398.2h0M160.3 399.1h0M152.1 400.3h0M131.9 392.9h0M145.5 404.1h0M145.7 394.9h0M133.7 396.1h0M142.1 399.1h0M134.0 399.5h0M137.0 402.2h0M139.2 402.9h0M140.3 397.5h0M129.7 393.5h0M158.0 392.8h0M126.5 391.7h0M141.6 397.4h0M133.9 396.9h0M152.8 395.6h0M135.6 399.6h0M135.6 394.7h0M157.3 402.0h0M139.5 398.6h0M132.4 395.3h0M144.8 402.8h0M129.7 392.1h0M142.6 395.3h0M134.8 398.4h0M143.9 399.3h0M129.0 396.7h0M148.2 401.5h0M149.6 394.9h0M131.3 396.8h0M139.1 394.7h0M145.9 402.4h0M126.7 392.7h0M140.6 395.6h0M142.7 391.4h0M128.1 392.5h0M131.8 394.0h0M152.3 403.0h0M143.4 398.4h0M136.8 396.9h0M129.6 400.5h0M145.8 394.2h0M134.2 402.5h0M161.5 393.8h0M143.0 401.3h0M134.0 396.0h0M130.4 390.6h0M140.8 395.7h0M129.8 400.2h0M132.1 395.8h0M137.0 398.2h0M142.5 396.4h0M153.6 398.5h0M130.0 396.8h0M153.4 399.8h0M140.0 398.5h0M143.4 396.3h0M131.9 397.7h0M148.4 393.3h0M148.3 394.2h0M136.4 398.4h0M148.3 402.0h0M139.0 404.2h0M136.0 399.7h0M128.2 394.5h0M132.6 398.3h0M137.1 399.9h0M153.0 399.6h0M141.4 402.2h0M135.1 398.2h0M136.7 399.3h0M140.9 391.2h0M138.3 397.6h0M135.9 387.3h0M154.8 395.6h0M146.2 400.1h0M138.1 396.3h0M140.7 400.5h0M132.2 394.9h0M142.5 405.3h0M140.4 392.3h0M133.5 396.0h0M125.9 393.4h0M129.1 401.5h0M136.6 388.0h0M133.8 401.7h0M143.9 396.4h0M155.2 402.6h0M124.6 397.7h0M143.1 395.9h0M149.8 403.3h0M131.8 397.3h0M147.5 395.6h0M135.6 400.9h0M147.9 393.9h0M165.1 398.9h0M154.9 402.4h0M134.5 399.5h0M135.2 400.3h0M134.5 397.1h0M135.4 394.5h0M138.8 397.1h0M153.5 396.5h0M141.0 397.3h0M140.2 395.0h0M132.0 392.5h0M154.4 393.3h0M135.0 403.0h0M135.5 396.4h0M147.4 398.2h0M136.7 391.2h0M133.3 392.8h0M148.1 402.6h0M142.2 399.4h0M130.7 403.8h0M124.9 395.0h0M135.9 395.9h0M129.6 398.0h0M137.0 402.9h0M124.0 394.8h0M141.0 400.7h0M138.6 394.6h0M156.8 401.2h0M145.4 389.3h0M140.2 391.6h0M115.3 390.6h0M139.5 404.3h0M146.9 393.4h0M151.0 393.0h0M139.3 400.0h0M135.3 397.1h0M143.4 399.1h0M140.0 393.8h0M142.7 388.5h0M159.9 402.3h0M134.2 401.9h0M128.6 394.6h0M130.2 400.8h0M137.0 394.0h0M136.2 398.4h0M148.2 395.7h0M143.9 393.7h0M130.0 395.9h0M133.6 393.0h0M147.3 401.4h0M152.2 402.1h0M150.6 396.8h0M131.4 401.1h0M136.7 397.1h0M132.9 394.7h0M126.4 396.6h0M139.6 404.3h0M142.5 402.1h0M116.0 398.5h0M137.4 393.6h0M135.0 391.3h0M153.2 393.5h0M152.1 396.3h0M134.3 394.4h0M148.7 396.6h0M137.3 403.1h0M146.0 396.1h0M127.3 396.3h0M146.4 397.8h0M147.0 394.5h0M125.6 397.7h0M144.2 393.8h0M152.9 405.0h0M139.0 394.4h0M151.2 391.1h0M130.7 398.2h0M129.6 393.6h0M127.0 392.1h0M148.5 395.6h0M119.0 398.9h0M146.7 402.9h0M137.3 397.5h0M148.0 396.4h0M142.2 398.9h0M139.6 397.7h0M146.5 398.1h0M149.4 404.1h0M151.0 398.3h0M150.3 397.3h0M147.7 391.7h0M134.3 396.6h0M138.0 396.3h0M124.2 397.2h0M137.2 400.1h0M137.7 403.0h0M152.8 396.0h0M157.4 401.2h0M128.5 395.6h0M123.7 395.6h0M132.9 398.2h0M142.0 397.1h0M157.2 395.4h0M127.3 392.9h0M126.8 396.3h0M127.7 399.9h0M152.0 399.8h0M133.4 399.1h0M136.6 391.5h0M128.3 401.5h0M145.0 403.5h0M136.0 392.7h0M139.5 399.0h0M132.8 400.4h0M133.9 396.4h0M151.3 393.9h0M134.1 399.8h0M146.1 404.4h0M135.3 398.3h0M128.9 400.6h0M142.7 403.7h0M130.7 399.3h0M140.2 402.5h0M149.7 398.8h0M136.9 398.5h0M132.9 400.7h0M150.2 396.9h0M138.3 393.4h0M132.5 394.6h0M139.5 400.7h0M146.5 403.3h0M145.4 400.9h0M143.1 392.1h0M144.6 399.8h0M138.9 398.7h0M128.1 401.1h0M139.6 395.3h0M122.5 396.9h0M143.9 397.1h0M129.6 393.0h0M127.6 394.4h0M154.2 405.8h0M141.5 396.2h0M141.2 400.4h0M136.1 402.6h0M140.3 395.3h0M132.7 400.6h0M134.6 397.2h0M139.6 397.8h0M139.6 402.4h0M113.2 394.0h0M152.4 403.3h0M132.7 396.0h0M147.9 395.3h0M151.0 398.1h0M142.9 396.0h0M134.9 392.6h0M144.8 393.9h0M135.3 393.3h0M129.0 395.5h0M114.3 400.2h0M145.9 399.4h0M140.6 403.6h0M153.5 395.7h0M138.7 395.8h0M142.0 392.1h0M140.9 403.1h0M136.5 392.4h0M144.3 399.2h0M144.6 397.2h0M144.6 403.7h0M130.5 394.5h0M136.8 396.0h0M157.3 399.3h0M141.2 399.6h0M133.0 397.4h0M125.3 404.8h0M151.7 398.3h0M149.5 397.3h0M140.3 394.9h0M145.7 402.2h0M150.3 401.5h0M140.8 387.7h0M139.7 391.1h0M135.7 394.9h0M139.4 395.8h0M130.9 400.5h0M142.1 403.4h0M131.0 394.6h0M133.2 400.5h0M128.5 396.4h0M135.5 396.7h0M137.2 390.3h0M134.8 404.6h0M140.0 397.4h0M140.4 403.5h0M149.5 397.9h0M138.5 403.4h0M143.4 397.8h0M151.6 399.5h0M127.4 396.4h0M130.4 395.5h0M122.9 388.8h0M135.8 391.4h0M131.5 395.3h0M138.4 395.5h0M141.6 394.3h0M105.3 384.0h0M160.3 395.2h0M148.3 391.3h0M132.2 398.9h0M151.5 388.2h0M147.8 391.4h0M145.2 393.6h0M143.4 392.9h0M144.2 399.3h0M129.8 386.0h0M134.2 406.3h0M141.2 407.2h0M168.0 394.5h0M149.4 398.7h0M122.4 389.1h0M139.6 397.0h0M141.7 388.1h0M148.3 400.9h0M107.0 383.9h0M129.5 386.7h0M163.9 387.5h0M143.6 385.9h0M163.9 397.7h0M143.5 387.5h0M138.9 395.0h0M128.2 389.1h0M130.2 384.6h0M134.5 381.4h0M157.5 404.3h0M155.6 398.5h0M159.9 393.7h0M138.9 387.5h0M131.3 387.8h0M145.3 394.3h0M145.3 399.7h0M147.9 401.7h0M148.9 391.2h0M150.2 398.0h0M184.7 404.5h0M142.0 397.2h0M160.9 400.1h0M154.5 401.5h0M144.4 395.4h0M153.6 397.1h0M127.1 385.8h0M122.3 393.6h0M151.2 406.5h0M151.1 397.2h0M126.5 387.0h0M149.3 397.8h0M137.4 386.1h0M151.1 394.9h0M128.7 395.0h0M131.3 385.4h0M148.6 392.0h0M160.6 398.8h0M134.6 392.9h0M168.3 411.7h0M144.5 390.0h0M141.2 377.3h0M157.5 391.2h0M127.1 385.4h0M134.9 390.2h0M143.3 395.5h0M149.6 383.8h0M155.6 394.2h0M112.1 377.9h0M156.2 396.9h0M133.5 385.9h0M128.6 383.8h0M124.7 393.6h0M140.8 400.9h0M140.6 388.4h0M121.3 381.2h0M132.4 386.3h0M143.7 395.4h0M133.0 400.5h0M130.5 394.0h0M164.6 391.3h0M120.6 381.8h0M143.9 394.9h0M147.4 388.4h0M132.4 391.4h0M143.1 398.5h0M143.4 392.9h0M130.8 394.5h0M145.2 387.3h0M145.5 398.3h0M151.6 393.4h0M149.4 386.6h0M127.6 389.3h0M132.0 395.0h0M169.9 393.1h0M115.0 382.7h0M132.7 382.5h0M166.4 400.3h0M167.0 397.6h0M165.8 400.5h0M163.9 396.8h0M152.9 398.6h0M164.1 401.7h0M173.6 406.3h0M161.4 403.3h0M171.5 402.1h0M166.0 397.5h0M147.7 396.0h0M157.2 400.1h0M164.2 395.3h0M173.7 391.3h0M167.4 401.9h0M159.9 395.8h0M183.3 398.9h0M159.1 397.6h0M168.3 399.4h0M157.2 411.3h0M159.5 393.8h0M167.8 410.4h0M165.5 408.5h0M187.6 400.0h0M152.1 394.6h0M156.8 396.1h0M165.7 405.2h0M172.9 406.5h0M180.4 400.1h0M154.1 407.6h0M183.4 393.5h0M151.5 390.4h0M167.3 400.6h0M164.5 400.7h0M181.4 399.7h0M145.0 387.7h0M175.3 405.4h0M161.5 403.6h0M166.0 397.5h0M168.1 402.5h0M156.6 394.6h0M164.4 388.3h0M156.5 394.9h0M166.0 403.2h0M180.6 399.8h0M155.6 400.3h0M176.8 406.2h0M180.8 397.1h0M162.4 392.5h0M184.9 397.8h0M167.4 390.4h0M182.1 405.1h0M163.2 400.3h0M160.9 406.5h0M175.5 399.7h0M166.6 392.5h0M159.2 399.3h0M168.5 401.7h0M164.2 395.5h0M165.4 392.8h0M157.1 397.8h0M149.6 398.9h0M157.6 392.1h0M173.8 397.4h0M186.1 393.6h0M221.3 407.1h0M225.8 408.9h0M200.2 391.7h0M198.4 403.0h0M189.3 392.3h0M73.1 287.4h0M86.8 292.8h0M61.2 306.4h0M64.0 306.4h0M58.5 328.3h0M61.2 340.2h0M73.1 365.6h0M131.6 339.0h0M131.6 347.9h0" stroke="#111" stroke-width="2.8" stroke-linecap="round" fill="none"/>
<g stroke="#111" stroke-width="1.55" fill="none"><rect x="304.60" y="281.70" width="202.60" height="155.30"/><path d="M406.00 281.70V437.00M304.60 385.00H507.20M314.50 437.00v5.8M360.00 437.00v5.8M406.00 437.00v5.8M451.75 437.00v5.8M497.00 437.00v5.8M304.60 414.00h-6.3M304.60 385.00h-6.3M304.60 355.00h-6.3M304.60 325.00h-6.3M304.60 295.50h-6.3"/></g>
<g font-size="12.3" font-weight="bold"><g text-anchor="middle"><text transform="translate(314.50 453.05) scale(0.97 1)">0.0</text><text transform="translate(360.00 453.05) scale(0.97 1)">0.5</text><text transform="translate(406.00 453.05) scale(0.97 1)">1.0</text><text transform="translate(451.75 453.05) scale(0.97 1)">1.5</text><text transform="translate(497.00 453.05) scale(0.97 1)">2.0</text></g><g text-anchor="end"><text transform="translate(297.00 418.00) scale(0.97 1)">0.5</text><text transform="translate(297.00 389.00) scale(0.97 1)">1.0</text><text transform="translate(297.00 359.00) scale(0.97 1)">1.5</text><text transform="translate(297.00 329.00) scale(0.97 1)">2.0</text><text transform="translate(297.00 299.50) scale(0.97 1)">2.5</text></g></g>
<text font-size="13" stroke="#111" stroke-width="0.25" text-anchor="middle" transform="translate(409.40 471.30) scale(1.077 1)">tri-methyl-lysine 9</text>
<text font-size="12.4" stroke="#111" stroke-width="0.15" x="417.50" y="300.80">r = -0.18</text>
<g font-size="20" font-weight="bold"><text x="308.70" y="302.40">i</text><text x="503.10" y="302.50" text-anchor="end">ii</text><text x="308.60" y="430.00">iii</text><text x="502.50" y="430.20" text-anchor="end">iv</text></g>
<path d="M425.6 401.9h0M406.1 398.4h0M415.9 401.3h0M416.5 405.4h0M432.6 404.0h0M413.0 396.3h0M404.4 394.5h0M427.6 400.5h0M409.3 400.3h0M402.4 392.5h0M419.6 401.8h0M410.9 396.2h0M432.7 404.6h0M413.9 405.7h0M425.2 398.5h0M439.6 400.3h0M415.1 401.5h0M426.8 405.8h0M425.9 398.2h0M414.5 402.3h0M428.7 391.8h0M415.0 396.5h0M434.9 402.1h0M416.8 403.7h0M417.8 399.1h0M415.3 401.7h0M404.7 403.6h0M410.2 395.9h0M414.5 402.1h0M425.1 396.8h0M412.2 401.1h0M425.1 397.6h0M411.5 397.5h0M418.8 394.3h0M411.2 394.9h0M423.0 403.1h0M428.7 395.6h0M407.0 390.3h0M408.6 402.1h0M416.1 395.6h0M424.4 399.5h0M431.6 397.8h0M431.9 388.0h0M420.9 409.4h0M414.9 403.1h0M419.9 398.5h0M407.8 403.1h0M416.7 399.6h0M395.1 393.8h0M419.4 398.9h0M421.8 403.2h0M418.6 394.6h0M429.1 397.4h0M416.5 402.1h0M431.3 397.2h0M415.2 407.6h0M411.0 406.5h0M430.7 398.6h0M412.2 399.7h0M443.3 394.9h0M406.5 398.8h0M407.6 405.5h0M420.7 388.9h0M433.7 399.3h0M415.6 397.9h0M428.8 405.4h0M401.5 390.2h0M421.7 392.3h0M421.3 392.8h0M413.3 396.5h0M433.7 395.2h0M414.8 394.9h0M412.8 404.6h0M424.0 393.2h0M427.1 404.5h0M427.3 396.4h0M414.7 409.1h0M428.7 395.6h0M423.8 406.4h0M404.9 394.0h0M426.7 397.1h0M416.7 397.1h0M413.9 399.9h0M410.8 397.4h0M415.1 394.7h0M426.0 402.6h0M436.6 404.4h0M423.4 394.5h0M431.3 408.8h0M428.7 394.1h0M432.8 408.9h0M412.6 399.0h0M414.8 393.0h0M412.6 393.4h0M424.5 405.3h0M409.6 400.4h0M420.0 394.7h0M417.3 394.9h0M404.0 411.2h0M415.9 396.8h0M415.6 403.0h0M423.1 390.8h0M418.1 401.9h0M411.0 390.1h0M418.7 396.2h0M430.8 394.8h0M410.3 394.4h0M427.2 397.1h0M428.8 401.7h0M418.4 401.1h0M426.4 402.0h0M422.9 403.7h0M417.9 400.3h0M418.0 398.2h0M417.3 399.7h0M399.2 393.3h0M413.1 399.6h0M411.2 394.3h0M410.4 396.3h0M430.4 392.4h0M430.5 396.7h0M407.6 392.9h0M430.5 395.8h0M426.8 398.9h0M414.2 394.0h0M431.3 403.8h0M427.9 398.2h0M427.7 398.0h0M429.8 394.9h0M427.7 405.0h0M427.1 398.9h0M408.5 395.3h0M406.2 394.4h0M435.4 401.6h0M428.0 397.3h0M425.5 404.8h0M425.1 398.5h0M426.3 399.1h0M429.7 398.1h0M425.8 393.3h0M421.1 394.6h0M421.5 396.7h0M414.3 395.3h0M431.0 399.6h0M426.9 397.3h0M408.9 396.8h0M431.9 401.3h0M402.5 397.1h0M413.3 390.5h0M419.0 398.7h0M413.5 397.4h0M414.1 402.3h0M418.8 402.1h0M431.9 404.2h0M418.7 401.6h0M406.4 391.2h0M399.6 391.8h0M406.1 397.8h0M440.7 408.6h0M406.5 392.7h0M421.1 401.1h0M419.1 402.7h0M420.6 392.5h0M415.8 398.0h0M430.8 390.9h0M413.9 397.2h0M414.1 401.2h0M415.7 401.2h0M403.2 406.3h0M412.6 397.9h0M430.9 401.4h0M417.9 395.9h0M426.4 399.5h0M418.9 390.9h0M416.3 400.6h0M380.0 389.0h0M406.9 380.3h0M405.5 389.2h0M430.4 385.6h0M386.3 380.4h0M412.3 397.8h0M405.9 399.3h0M405.3 415.4h0M422.1 397.7h0M393.3 394.9h0M457.2 399.7h0M404.4 381.6h0M396.4 396.1h0M401.2 397.4h0M426.4 394.0h0M397.7 396.0h0M413.7 400.5h0M411.3 402.8h0M397.6 394.6h0M391.8 390.7h0M408.2 404.0h0M400.0 399.3h0M408.8 395.5h0M407.9 403.5h0M440.0 393.1h0M414.1 389.3h0M418.3 399.9h0M413.6 375.1h0M431.3 390.9h0M404.2 390.9h0M456.0 399.2h0M432.9 389.3h0M424.5 385.6h0M416.4 393.4h0M399.7 373.5h0M417.9 396.8h0M439.0 404.5h0M411.8 403.3h0M412.3 400.2h0M422.5 399.4h0M400.2 397.8h0M409.6 400.8h0M430.1 393.8h0M414.7 407.1h0M421.9 408.8h0M415.5 397.0h0M400.4 402.2h0M398.4 378.2h0M406.7 397.9h0M430.5 396.0h0M432.4 409.7h0M390.7 366.8h0M411.1 399.2h0M415.0 389.2h0M388.8 391.5h0M411.3 391.3h0M415.2 401.7h0M395.1 414.7h0M430.8 411.5h0M404.0 382.3h0M403.8 390.8h0M407.8 390.7h0M412.4 401.2h0M438.0 402.6h0M386.0 396.2h0M422.3 407.4h0M427.1 392.7h0M452.9 407.6h0M424.6 412.3h0M403.8 395.0h0M419.7 398.4h0M410.1 401.7h0M403.2 393.3h0M422.6 393.1h0M431.1 389.8h0M377.1 396.6h0M408.7 401.8h0M432.0 393.5h0M409.8 395.7h0M436.2 403.0h0M405.8 388.7h0M420.9 386.6h0M419.0 391.8h0M401.3 403.2h0M411.7 418.5h0M419.7 390.1h0M413.3 398.9h0M432.8 400.1h0M430.7 381.6h0M425.8 391.1h0M421.4 396.1h0M417.2 397.1h0M432.7 412.8h0M406.7 390.9h0M395.6 395.6h0M398.5 391.6h0M428.5 387.3h0M421.5 404.0h0M416.7 392.9h0M439.0 418.0h0M419.0 412.7h0M425.6 395.1h0M421.5 391.0h0M419.3 403.2h0M418.6 388.1h0M408.6 345.4h0M447.9 370.3h0M383.0 368.0h0M468.0 403.6h0M462.5 402.4h0M460.7 396.5h0M378.4 407.2h0M392.1 420.2h0M387.6 414.3h0" stroke="#111" stroke-width="2.8" stroke-linecap="round" fill="none"/>
<g stroke="#111" stroke-width="1.55" fill="none"><rect x="42.00" y="512.95" width="202.90" height="155.25"/><path d="M88.40 512.95V668.20M42.00 615.85H244.90M52.00 668.20v6.4M88.40 668.20v6.4M125.00 668.20v6.4M161.25 668.20v6.4M198.00 668.20v6.4M234.50 668.20v6.4M42.00 645.50h-5.9M42.00 615.85h-5.9M42.00 586.25h-5.9M42.00 556.25h-5.9M42.00 526.75h-5.9"/></g>
<g font-size="12.3" font-weight="bold"><g text-anchor="middle"><text transform="translate(52.00 686.80) scale(0.97 1)">0.0</text><text transform="translate(88.40 686.80) scale(0.97 1)">1.0</text><text transform="translate(125.00 686.80) scale(0.97 1)">2.0</text><text transform="translate(161.25 686.80) scale(0.97 1)">3.0</text><text transform="translate(198.00 686.80) scale(0.97 1)">4.0</text><text transform="translate(234.50 686.80) scale(0.97 1)">5.0</text></g><g text-anchor="end"><text transform="translate(34.20 649.50) scale(0.97 1)">0.5</text><text transform="translate(34.20 619.85) scale(0.97 1)">1.0</text><text transform="translate(34.20 590.25) scale(0.97 1)">1.5</text><text transform="translate(34.20 560.25) scale(0.97 1)">2.0</text><text transform="translate(34.20 530.75) scale(0.97 1)">2.5</text></g></g>
<text font-size="13" stroke="#111" stroke-width="0.25" text-anchor="middle" transform="translate(140.50 703.20) scale(1.077 1)">HDAC1 binding</text>
<text font-size="14" stroke="#111" stroke-width="0.25" text-anchor="middle" transform="translate(11.00 591.10) rotate(-90) scale(1.028 1)">histone H3 acetylation</text>
<text font-size="12.4" stroke="#111" stroke-width="0.15" x="102.50" y="534.00">r = -0.66</text>
<g font-size="20" font-weight="bold"><text x="44.90" y="534.20">i</text><text x="239.40" y="534.00" text-anchor="end">ii</text><text x="45.00" y="661.70">iii</text><text x="239.00" y="662.30" text-anchor="end">iv</text></g>
<path d="M81.3 610.6h0M64.2 626.9h0M84.5 622.7h0M77.0 620.9h0M84.9 604.1h0M74.9 592.6h0M90.7 603.2h0M83.3 594.7h0M62.0 570.2h0M73.5 623.6h0M82.6 635.3h0M64.9 602.1h0M64.1 594.2h0M84.8 594.5h0M72.2 570.9h0M63.0 612.6h0M92.2 618.5h0M75.7 581.5h0M80.5 617.8h0M75.4 623.8h0M87.0 621.3h0M71.1 620.7h0M63.6 606.6h0M72.0 594.0h0M61.3 631.1h0M82.2 633.3h0M93.1 625.2h0M60.1 617.7h0M79.4 617.3h0M90.6 612.7h0M79.4 614.9h0M79.6 633.4h0M81.8 623.5h0M64.8 600.0h0M95.6 632.4h0M84.7 587.8h0M60.7 611.2h0M70.0 634.7h0M78.2 619.0h0M78.6 579.7h0M72.6 611.1h0M60.5 588.8h0M59.5 596.7h0M84.1 619.5h0M71.0 628.3h0M62.5 629.4h0M67.1 614.6h0M70.8 593.3h0M70.5 606.2h0M81.7 608.7h0M74.9 594.6h0M70.9 607.0h0M59.3 597.9h0M62.7 611.1h0M97.4 600.6h0M68.2 608.3h0M89.7 635.1h0M83.8 617.6h0M74.4 633.8h0M69.4 626.6h0M68.8 585.3h0M72.5 590.2h0M68.7 613.8h0M71.8 619.6h0M93.4 628.9h0M71.2 618.8h0M81.4 621.7h0M60.6 635.0h0M80.3 586.5h0M69.0 590.4h0M77.6 606.8h0M68.1 605.8h0M78.8 599.6h0M76.2 616.5h0M71.1 634.4h0M78.8 612.8h0M76.4 627.3h0M60.9 622.4h0M84.7 597.0h0M78.4 619.8h0M85.2 627.1h0M66.4 608.0h0M78.7 576.4h0M83.1 616.7h0M76.1 630.1h0M74.9 599.1h0M78.3 606.0h0M70.2 590.1h0M81.7 607.7h0M74.3 611.4h0M78.4 615.0h0M67.3 612.0h0M76.8 606.8h0M87.7 629.1h0M69.7 612.6h0M83.7 599.7h0M62.7 599.4h0M72.4 601.2h0M69.2 594.1h0M82.8 603.7h0M73.7 597.6h0M90.4 609.1h0M86.7 630.5h0M84.1 634.6h0M60.7 624.9h0M78.9 594.5h0M81.3 585.7h0M71.1 605.3h0M69.3 611.8h0M65.8 599.8h0M94.5 616.5h0M85.8 607.6h0M58.8 628.5h0M79.5 608.2h0M76.2 607.8h0M62.2 569.1h0M79.5 628.7h0M77.1 620.3h0M66.4 617.2h0M96.6 625.9h0M60.1 634.7h0M75.5 581.6h0M76.5 610.2h0M63.8 624.3h0M85.2 619.0h0M87.1 597.1h0M82.8 605.3h0M78.5 618.1h0M78.2 612.8h0M69.3 610.3h0M89.8 632.8h0M91.9 617.4h0M74.0 606.2h0M85.5 609.6h0M75.9 576.6h0M76.5 630.8h0M60.5 611.1h0M86.5 627.1h0M61.0 607.9h0M65.5 624.0h0M69.8 617.4h0M81.1 621.0h0M70.1 605.8h0M59.4 577.3h0M63.3 633.5h0M92.5 618.9h0M67.6 635.4h0M87.9 631.7h0M63.4 620.3h0M73.0 621.2h0M89.8 633.8h0M62.2 573.7h0M80.1 626.8h0M66.6 599.6h0M82.4 621.8h0M60.6 634.9h0M85.7 602.7h0M72.9 558.9h0M74.7 551.8h0M69.5 606.0h0M88.3 611.8h0M66.6 597.6h0M71.2 570.3h0M68.0 609.7h0M81.7 608.9h0M82.7 589.6h0M60.6 587.2h0M74.9 578.5h0M91.5 621.9h0M64.5 590.0h0M68.0 618.7h0M77.8 627.5h0M86.4 605.5h0M70.4 614.6h0M84.0 610.0h0M82.9 602.1h0M74.6 598.8h0M89.7 610.3h0M78.3 621.2h0M78.4 590.5h0M85.4 620.4h0M71.3 618.4h0M71.1 622.1h0M71.8 625.8h0M70.6 614.6h0M70.4 594.0h0M64.4 627.4h0M72.2 607.7h0M80.9 600.0h0M72.8 614.0h0M77.4 625.0h0M65.8 596.8h0M66.1 624.7h0M84.7 579.9h0M71.0 630.7h0M76.3 604.4h0M85.2 622.7h0M63.6 594.7h0M74.6 619.4h0M79.2 591.8h0M68.4 621.8h0M70.1 602.5h0M60.1 620.7h0M73.3 585.8h0M74.1 592.3h0M71.1 598.3h0M79.9 632.5h0M71.5 580.6h0M70.1 584.8h0M74.8 608.0h0M73.4 597.0h0M69.2 606.1h0M75.9 629.9h0M76.0 627.4h0M62.7 625.1h0M59.3 627.6h0M64.8 622.7h0M76.8 610.3h0M66.8 591.8h0M93.5 628.2h0M79.2 634.3h0M87.1 611.2h0M76.8 632.2h0M89.0 619.7h0M76.9 608.2h0M80.2 625.9h0M71.8 632.3h0M75.2 627.5h0M72.5 555.5h0M60.4 633.0h0M79.0 600.5h0M67.9 632.2h0M87.2 630.8h0M74.0 611.3h0M71.4 615.5h0M82.9 625.7h0M82.9 613.5h0M63.5 592.4h0M68.2 569.5h0M83.7 617.6h0M71.7 603.4h0M78.2 616.9h0M62.4 582.4h0M79.8 591.0h0M74.4 578.7h0M81.2 633.2h0M63.0 616.4h0M79.9 615.6h0M62.5 601.5h0M69.7 571.4h0M70.3 571.4h0M76.5 624.7h0M62.8 589.5h0M62.4 634.5h0M92.1 635.4h0M91.0 629.0h0M66.9 593.1h0M63.1 625.7h0M86.8 615.0h0M74.5 612.0h0M77.8 601.9h0M83.0 611.9h0M61.7 608.6h0M85.3 576.7h0M78.9 566.1h0M70.5 582.5h0M73.1 583.2h0M84.2 635.6h0M84.5 608.5h0M79.6 631.3h0M81.9 608.3h0M81.0 623.2h0M159.4 643.3h0M95.2 622.2h0M88.4 620.9h0M88.4 624.0h0M103.6 623.6h0M101.2 631.7h0M138.9 627.8h0M147.9 627.8h0M136.5 638.3h0M117.6 627.1h0M105.2 617.4h0M121.3 626.5h0M172.4 644.6h0M164.7 642.8h0M108.8 621.7h0M135.5 622.4h0M153.2 640.8h0M179.7 639.3h0M127.3 633.8h0M118.8 629.5h0M170.9 637.6h0M127.6 630.2h0M124.0 632.6h0M141.2 622.3h0M124.3 630.1h0M172.2 640.3h0M163.7 632.0h0M96.3 623.3h0M118.4 629.0h0M163.6 632.8h0M119.1 633.3h0M129.4 626.6h0M131.4 625.6h0M146.5 630.6h0M140.2 633.5h0M163.6 637.6h0M166.9 646.9h0M156.5 636.7h0M162.5 635.9h0M127.5 625.6h0M130.4 629.8h0M106.1 627.4h0M153.2 639.6h0M122.4 629.1h0M154.5 635.0h0M162.6 631.3h0M119.9 628.3h0M155.5 638.4h0M129.3 630.9h0M130.3 633.0h0M95.1 624.3h0M145.7 644.8h0M125.5 637.5h0M150.4 640.8h0M111.5 624.2h0M147.7 634.6h0M134.6 630.7h0M160.6 631.1h0M129.8 635.6h0M168.0 632.8h0M179.7 637.6h0M136.6 635.4h0M121.3 621.2h0M153.3 642.5h0M109.0 631.7h0M145.5 634.8h0M127.1 627.8h0M101.0 625.3h0M143.7 644.0h0M88.5 623.2h0M136.1 632.2h0M150.2 622.0h0M171.0 632.3h0M175.3 638.9h0M122.1 634.3h0M104.1 623.3h0M126.9 635.6h0M129.1 629.3h0M153.6 633.6h0M160.1 638.9h0M142.1 631.8h0M114.5 628.8h0M166.8 641.1h0M131.2 623.1h0M115.3 624.5h0M179.7 641.0h0M121.0 632.4h0M115.7 626.6h0M130.0 627.7h0M157.3 632.0h0M148.3 627.0h0M94.6 620.7h0M161.6 642.8h0M143.3 623.2h0M147.9 628.5h0M132.0 626.8h0M120.1 621.7h0M128.6 637.6h0M92.7 624.4h0M133.7 633.8h0M128.1 624.2h0M159.0 642.5h0M148.3 636.0h0M109.9 618.7h0M95.1 619.9h0M179.7 641.4h0M117.9 618.6h0M145.5 640.4h0M126.3 627.5h0M172.5 640.6h0M95.2 620.6h0M131.0 632.1h0M152.8 639.5h0M135.8 630.7h0M125.5 636.1h0M158.3 633.8h0M109.2 627.7h0M179.7 634.9h0M169.7 641.1h0M115.8 630.9h0M144.9 631.7h0M168.3 632.5h0M127.5 640.3h0M152.9 634.8h0M139.5 629.4h0M129.4 637.5h0M141.4 637.3h0M114.2 624.0h0M163.8 641.8h0M171.1 642.4h0M154.8 627.2h0M156.8 640.9h0M138.9 636.7h0M132.8 642.6h0M133.6 636.7h0M117.3 633.9h0M150.1 626.2h0M88.4 615.7h0M155.9 642.3h0M146.9 624.3h0M131.4 627.0h0M158.1 637.4h0M158.8 632.6h0M144.4 631.7h0M131.8 634.7h0M168.5 647.4h0M125.0 634.0h0M170.0 639.0h0M106.0 627.2h0M156.2 639.7h0M147.6 629.4h0M136.3 637.2h0M89.7 617.6h0M157.7 638.8h0M172.4 639.0h0M137.5 637.7h0M179.7 639.6h0M96.1 627.3h0M130.4 639.3h0M144.8 633.8h0M112.7 627.1h0M154.8 631.7h0M159.1 635.3h0M156.4 641.2h0M114.2 630.2h0M122.8 641.4h0M106.4 631.1h0M102.0 618.1h0M108.5 618.4h0M165.6 634.3h0M146.1 632.4h0M151.8 632.2h0M148.3 632.0h0M109.9 634.9h0M125.0 633.8h0M141.2 627.0h0M155.4 630.0h0M151.4 633.9h0M142.7 634.8h0M133.9 633.3h0M160.9 639.8h0M148.0 639.0h0M114.1 636.8h0M126.9 629.1h0M117.5 630.1h0M115.8 628.6h0M89.5 613.4h0M178.3 636.6h0M162.6 640.9h0M121.5 625.9h0M117.4 635.4h0M113.8 621.9h0M140.0 631.3h0M95.2 624.1h0M102.0 621.8h0M108.0 618.6h0M171.7 641.7h0M127.1 634.9h0M148.1 623.8h0M137.7 632.1h0M154.6 628.3h0M95.7 626.6h0M136.6 630.0h0M141.2 636.1h0M145.1 630.6h0M170.6 640.5h0M105.5 628.7h0M129.4 622.7h0M110.9 624.8h0M117.8 638.1h0M121.9 630.0h0M168.2 643.2h0M135.1 637.7h0M147.8 637.2h0M112.4 629.2h0M143.2 633.2h0M113.7 631.1h0M152.2 644.6h0M172.4 642.2h0M101.4 620.1h0M120.2 635.3h0M162.1 634.2h0M93.3 620.5h0M93.0 625.0h0M139.0 630.9h0M122.4 632.7h0M109.5 628.2h0M134.1 636.5h0M160.7 634.7h0M106.1 618.6h0M167.3 641.8h0M139.7 626.6h0M114.7 638.0h0M167.7 643.0h0M151.4 640.2h0M172.8 631.0h0M135.3 634.6h0M157.3 632.4h0M99.5 634.4h0M92.4 622.0h0M135.6 628.9h0M145.8 634.1h0M155.2 649.6h0M176.5 638.7h0M140.5 628.7h0M179.7 633.0h0M127.0 627.9h0M116.8 636.3h0M127.7 631.1h0M133.4 626.7h0M133.7 635.4h0M136.3 629.0h0M155.7 638.4h0M95.4 622.8h0M144.2 629.8h0M121.6 632.3h0M144.2 619.2h0M97.8 623.0h0M132.3 629.3h0M167.9 642.3h0M160.3 636.7h0M135.5 633.1h0M111.7 634.0h0M152.2 643.0h0M102.3 623.2h0M125.8 630.1h0M116.5 641.0h0M169.5 649.7h0M88.9 623.4h0M128.7 630.6h0M128.1 627.1h0M174.5 645.8h0M121.6 625.8h0M172.3 641.1h0M157.7 639.0h0M157.9 637.2h0M179.7 634.6h0M173.7 636.8h0M173.0 635.1h0M143.1 636.8h0M161.3 638.6h0M153.0 641.3h0M136.4 634.7h0M179.7 641.6h0M129.4 632.8h0M142.6 629.6h0M134.7 629.4h0M95.0 619.3h0M153.7 634.9h0M117.2 622.4h0M175.6 639.0h0M147.2 629.3h0M141.2 630.4h0M102.8 621.1h0M145.8 634.2h0M145.6 640.1h0M161.6 644.5h0M134.2 621.6h0M111.5 624.7h0M137.9 630.0h0M162.9 638.4h0M135.6 634.1h0M124.2 614.8h0M121.0 634.3h0M140.2 633.0h0M111.2 626.8h0M130.5 636.4h0M138.1 638.7h0M129.5 634.0h0M135.2 633.4h0M186.3 634.3h0M177.4 637.0h0M211.2 633.8h0M177.9 658.9h0M203.3 636.4h0M185.0 631.2h0M187.3 638.9h0M179.2 637.5h0M187.0 642.9h0M206.3 638.2h0M173.4 635.1h0M203.2 645.0h0M187.4 639.2h0M189.3 638.8h0M200.8 642.8h0M219.1 644.3h0M185.6 626.7h0M222.9 639.4h0M190.1 646.6h0M207.1 638.5h0M181.7 636.9h0M210.0 635.1h0M220.7 632.0h0M198.1 639.8h0M199.5 631.6h0M203.4 632.7h0M195.3 634.6h0M208.0 640.7h0M175.9 628.3h0M199.9 642.5h0M195.5 641.2h0M170.7 640.8h0M174.3 638.3h0M191.1 632.2h0M190.9 637.2h0M188.7 642.1h0M174.6 633.1h0M194.6 643.4h0M195.1 642.3h0M183.2 638.0h0M208.0 641.4h0M174.3 643.6h0M215.4 644.9h0M207.6 641.2h0M201.9 640.3h0M172.3 642.3h0M219.5 640.5h0M199.7 641.8h0M190.8 637.5h0M198.5 625.1h0M192.3 640.8h0M184.0 648.2h0M171.9 635.3h0M168.7 630.4h0M203.5 641.5h0M177.7 639.4h0M192.8 632.2h0M183.0 642.1h0M191.8 641.4h0M184.5 650.8h0M223.5 642.6h0M234.4 638.4h0M241.7 643.8h0M103.0 658.6h0M185.2 659.2h0M65.4 533.8h0M79.7 533.2h0M79.3 542.7h0M60.7 545.7h0M141.4 611.7h0M121.3 614.0h0M104.9 599.2h0M92.1 589.1h0M95.7 592.1h0" stroke="#111" stroke-width="2.8" stroke-linecap="round" fill="none"/>
<g stroke="#111" stroke-width="1.55" fill="none"><rect x="304.60" y="514.50" width="202.60" height="155.20"/><path d="M351.00 514.50V669.70M304.60 618.00H507.20M314.50 669.70v6.4M351.00 669.70v6.4M388.00 669.70v6.4M424.50 669.70v6.4M460.75 669.70v6.4M497.00 669.70v6.4M304.60 647.50h-6.3M304.60 618.00h-6.3M304.60 588.25h-6.3M304.60 558.75h-6.3M304.60 528.75h-6.3"/></g>
<g font-size="12.3" font-weight="bold"><g text-anchor="middle"><text transform="translate(314.50 687.05) scale(0.97 1)">0.0</text><text transform="translate(351.00 687.05) scale(0.97 1)">1.0</text><text transform="translate(388.00 687.05) scale(0.97 1)">2.0</text><text transform="translate(424.50 687.05) scale(0.97 1)">3.0</text><text transform="translate(460.75 687.05) scale(0.97 1)">4.0</text><text transform="translate(497.00 687.05) scale(0.97 1)">5.0</text></g><g text-anchor="end"><text transform="translate(297.00 651.50) scale(0.97 1)">0.5</text><text transform="translate(297.00 622.00) scale(0.97 1)">1.0</text><text transform="translate(297.00 592.25) scale(0.97 1)">1.5</text><text transform="translate(297.00 562.75) scale(0.97 1)">2.0</text><text transform="translate(297.00 532.75) scale(0.97 1)">2.5</text></g></g>
<text font-size="13" stroke="#111" stroke-width="0.25" text-anchor="middle" transform="translate(405.00 706.60) scale(1.077 1)">HDAC1 binding</text>
<text font-size="12.4" stroke="#111" stroke-width="0.15" x="367.50" y="537.00">r = -0.45</text>
<g font-size="20" font-weight="bold"><text x="309.40" y="534.60">i</text><text x="503.40" y="534.50" text-anchor="end">ii</text><text x="309.00" y="662.50">iii</text><text x="503.20" y="662.90" text-anchor="end">iv</text></g>
<path d="M334.2 566.9h0M330.5 604.8h0M327.5 609.1h0M334.8 611.5h0M335.2 613.7h0M343.5 604.8h0M345.0 606.3h0M348.1 606.9h0M349.0 598.6h0M350.2 608.5h0M362.2 604.5h0M341.9 612.5h0M334.8 618.3h0M350.5 621.4h0M352.7 621.4h0M354.2 623.2h0M355.8 623.8h0M351.2 623.8h0M337.9 622.3h0M341.9 621.7h0M338.8 626.0h0M342.5 626.9h0M345.0 626.0h0M346.5 625.1h0M348.1 624.5h0M334.2 627.5h0M336.7 628.5h0M341.3 630.6h0M343.5 629.4h0M344.4 628.5h0M335.8 633.1h0M333.3 635.2h0M341.9 639.2h0M350.5 640.8h0M351.8 634.6h0M354.2 639.2h0M356.7 637.7h0M358.8 633.1h0M361.9 631.5h0M363.5 632.5h0M360.4 634.6h0M365.0 636.2h0M361.9 639.2h0M368.7 633.7h0M372.1 629.4h0M377.3 625.4h0M388.1 625.4h0M398.8 623.2h0M394.2 631.5h0M392.1 634.6h0M376.4 641.7h0M381.0 642.3h0M387.5 644.8h0M394.2 647.5h0M404.4 633.1h0M410.5 634.6h0M417.3 633.1h0M412.7 641.7h0M417.9 647.8h0M423.5 640.8h0M428.1 636.8h0M426.5 624.8h0M427.5 628.5h0M437.3 640.8h0M442.5 633.7h0M452.7 633.7h0M446.5 647.5h0M453.6 643.2h0M351.2 650.0h0M355.2 652.2h0M364.4 649.4h0M363.5 654.6h0" stroke="#111" stroke-width="2.8" stroke-linecap="round" fill="none"/>
</svg></body></html>
